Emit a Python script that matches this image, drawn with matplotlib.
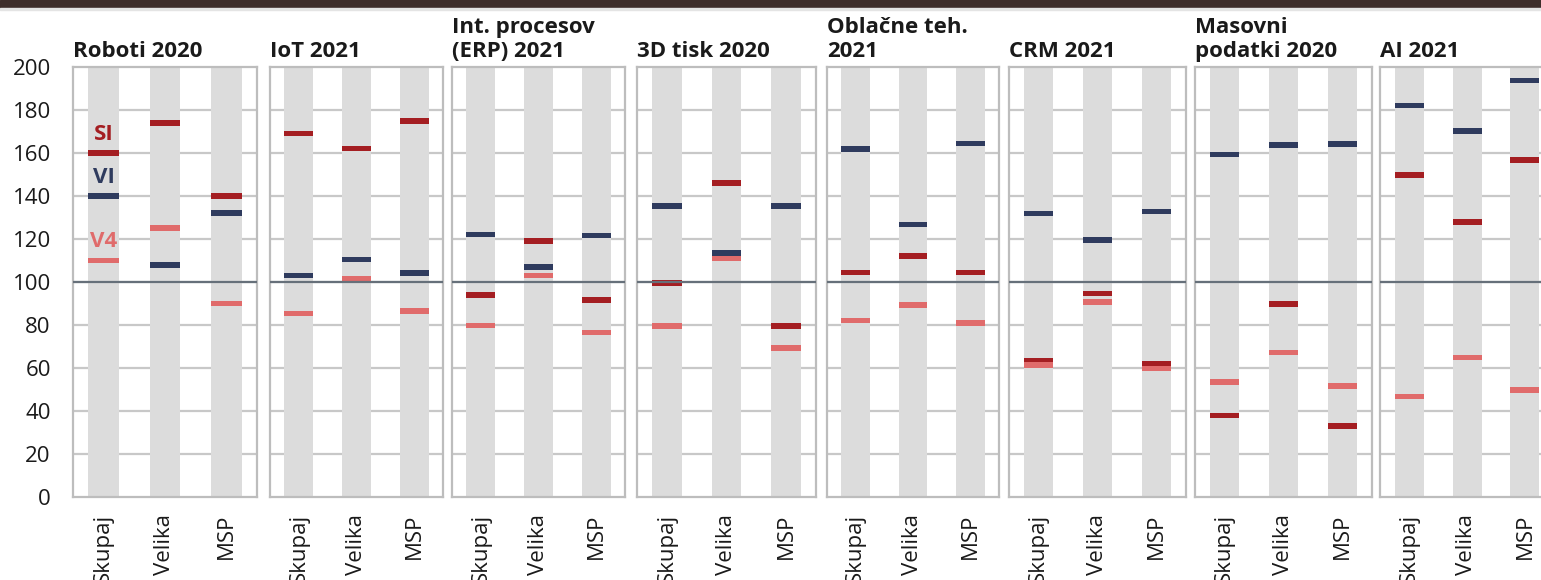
import numpy as np
import matplotlib
matplotlib.use('Agg')
import matplotlib.pyplot as plt
from matplotlib.patches import Rectangle

plt.rcParams['font.family'] = ['Open Sans', 'DejaVu Sans']

# ============================================
# Podatki
# ============================================
panels = ['Roboti 2020', 'IoT 2021', 'Int. procesov\n(ERP) 2021', '3D tisk 2020',
          'Oblačne teh.\n2021', 'CRM 2021', 'Masovni\npodatki 2020', 'AI 2021']
groups = ['Skupaj', 'Velika', 'MSP']

si = [[160, 174, 140], [169, 162, 175], [94, 119, 91.5], [99.6, 146, 79.5],
      [104.5, 112, 104.5], [63.4, 94.6, 62], [38, 89.8, 33], [149.7, 128, 156.8]]
vi = [[140, 108, 132], [103, 110.5, 104.3], [122, 107, 121.7], [135.3, 113.6, 135.3],
      [161.8, 126.8, 164.4], [131.8, 119.5, 132.7], [159.3, 163.8, 164.3], [182, 170.2, 193.8]]
v4 = [[110, 125, 90], [85.3, 101.5, 86.4], [79.7, 103, 76.5], [79.4, 111, 69.3],
      [82, 89.2, 81], [61.5, 90.6, 59.7], [53.5, 67.3, 51.7], [46.8, 64.9, 49.9]]

series_names = ['SI', 'VI', 'V4']
series_colors = ['#a41e22', '#2f3b5e', '#e06b6b']

# položaji panelov v pikslih (levo, desno)
panel_px = [(73, 257), (270, 443), (452, 625), (637, 816),
            (827, 999), (1009, 1186), (1195, 1372), (1380, 1554)]

W, H = 1541, 580
fig = plt.figure(figsize=(W / 100, H / 100), dpi=100)

# temni pas na vrhu
fig.patches.append(Rectangle((0, 1 - 8 / H), 1, 8 / H, transform=fig.transFigure,
                             color='#3e2e2b', zorder=10))
fig.patches.append(Rectangle((0, 1 - 10 / H), 1, 2 / H, transform=fig.transFigure,
                             color='#e4e4e4', zorder=10))

y_top, y_bot = 67, 497
x = np.arange(len(groups))

for i, name in enumerate(panels):
    l, r = panel_px[i]
    ax = fig.add_axes([l / W, (H - y_bot) / H, (r - l) / W, (y_bot - y_top) / H])
    ax.set_xlim(-0.5, 2.5)
    ax.set_ylim(0, 200)

    # mreža
    for yy in range(20, 200, 20):
        ax.axhline(yy, color='#c8c8c8', lw=1.6, zorder=1)

    # sivi stolpci
    ax.bar(x, 200, width=0.5, color='#dcdcdc', zorder=2)

    # oznake
    for vals, col in zip([si[i], vi[i], v4[i]], series_colors):
        vals = np.array(vals)
        ax.bar(x, 2.6, bottom=vals - 1.3, width=0.5, color=col, zorder=3)

    ax.axhline(100, color='#66707a', lw=1.6, zorder=5)

    for s in ax.spines.values():
        s.set_color('#bdbdbd')
        s.set_linewidth(1.6)

    ax.set_xticks(x)
    ax.set_xticklabels(groups, rotation=90, fontsize=16, color='#1a1a1a')
    ax.tick_params(axis='x', length=0, pad=12)

    if i == 0:
        ax.set_yticks(range(0, 201, 20))
        ax.tick_params(axis='y', length=0, pad=16, labelsize=16, labelcolor='#1a1a1a')
        # legenda nad stolpcem Skupaj
        for vals, nm, col in zip([si[0], vi[0], v4[0]], series_names, series_colors):
            ax.text(0, vals[0] + 8.7, nm, color=col, fontsize=16, fontweight='bold',
                    ha='center', va='center', zorder=6)
    else:
        ax.set_yticks([])

    ax.text(0, 1.012, name, transform=ax.transAxes, fontsize=16, fontweight='bold',
            ha='left', va='bottom', color='#1a1a1a', linespacing=1.15)

plt.savefig('out.png', dpi=100)
